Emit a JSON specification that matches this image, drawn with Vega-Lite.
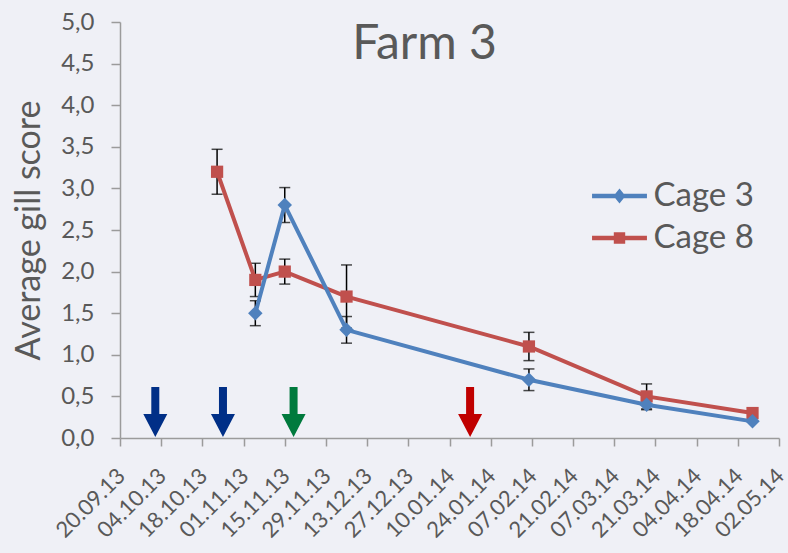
{
  "$schema": "https://vega.github.io/schema/vega-lite/v6.json",
  "width": 659,
  "height": 416,
  "autosize": "none",
  "padding": {"left": 120, "top": 22, "right": 9, "bottom": 115},
  "background": "#EFF0F6",
  "config": {
    "view": {"stroke": null},
    "font": "Lato",
    "axis": {
      "labelFont": "Lato",
      "titleFont": "Lato",
      "labelColor": "#595959",
      "titleColor": "#595959",
      "domainColor": "#9B9B9B",
      "tickColor": "#9B9B9B",
      "domainWidth": 1.5,
      "tickWidth": 1.5,
      "grid": false,
      "labelOverlap": false,
      "labelFlush": false,
      "titleFontWeight": "normal"
    }
  },
  "title": {
    "text": "Farm 3",
    "font": "Lato",
    "fontSize": 48,
    "fontWeight": "normal",
    "color": "#595959",
    "anchor": "middle",
    "frame": "group",
    "baseline": "alphabetic",
    "dx": -25,
    "dy": 51,
    "offset": -46
  },
  "datasets": {
    "scores": [
      {"series": "Cage 8", "date": "2013-10-23", "score": 3.2, "err": 0.27},
      {"series": "Cage 8", "date": "2013-11-05", "score": 1.9, "err": 0.2},
      {"series": "Cage 8", "date": "2013-11-15", "score": 2.0, "err": 0.15},
      {"series": "Cage 8", "date": "2013-12-06", "score": 1.7, "err": 0.38},
      {"series": "Cage 8", "date": "2014-02-06", "score": 1.1, "err": 0.17},
      {"series": "Cage 8", "date": "2014-03-18", "score": 0.5, "err": 0.15},
      {"series": "Cage 8", "date": "2014-04-23", "score": 0.3, "err": 0},
      {"series": "Cage 3", "date": "2013-11-05", "score": 1.5, "err": 0.15},
      {"series": "Cage 3", "date": "2013-11-15", "score": 2.8, "err": 0.21},
      {"series": "Cage 3", "date": "2013-12-06", "score": 1.3, "err": 0.16},
      {"series": "Cage 3", "date": "2014-02-06", "score": 0.7, "err": 0.13},
      {"series": "Cage 3", "date": "2014-03-18", "score": 0.4, "err": 0.06},
      {"series": "Cage 3", "date": "2014-04-23", "score": 0.2, "err": 0}
    ],
    "arrows": [
      {"date": "2013-10-02", "event": "A"},
      {"date": "2013-10-25", "event": "A"},
      {"date": "2013-11-18", "event": "B"},
      {"date": "2014-01-17", "event": "C"}
    ]
  },
  "encoding": {
    "x": {
      "field": "date",
      "type": "temporal",
      "title": null,
      "scale": {
        "type": "utc",
        "domain": [
          {"year": 2013, "month": 9, "date": 20, "utc": true},
          {"year": 2014, "month": 5, "date": 2, "utc": true}
        ]
      },
      "axis": {
        "values": [
          {"year": 2013, "month": 9, "date": 20, "utc": true},
          {"year": 2013, "month": 10, "date": 4, "utc": true},
          {"year": 2013, "month": 10, "date": 18, "utc": true},
          {"year": 2013, "month": 11, "date": 1, "utc": true},
          {"year": 2013, "month": 11, "date": 15, "utc": true},
          {"year": 2013, "month": 11, "date": 29, "utc": true},
          {"year": 2013, "month": 12, "date": 13, "utc": true},
          {"year": 2013, "month": 12, "date": 27, "utc": true},
          {"year": 2014, "month": 1, "date": 10, "utc": true},
          {"year": 2014, "month": 1, "date": 24, "utc": true},
          {"year": 2014, "month": 2, "date": 7, "utc": true},
          {"year": 2014, "month": 2, "date": 21, "utc": true},
          {"year": 2014, "month": 3, "date": 7, "utc": true},
          {"year": 2014, "month": 3, "date": 21, "utc": true},
          {"year": 2014, "month": 4, "date": 4, "utc": true},
          {"year": 2014, "month": 4, "date": 18, "utc": true},
          {"year": 2014, "month": 5, "date": 2, "utc": true}
        ],
        "format": "%d.%m.%y",
        "labelAngle": -45,
        "labelAlign": "right",
        "labelBaseline": "middle",
        "labelFontSize": 22,
        "labelOffset": 1,
        "tickSize": 8,
        "labelPadding": 26
      }
    }
  },
  "resolve": {"scale": {"shape": "independent"}, "legend": {"shape": "independent"}},
  "layer": [
    {
      "data": {"name": "scores"},
      "transform": [{"filter": "datum.err > 0"}],
      "mark": {"type": "errorbar", "color": "black", "thickness": 1.5, "ticks": {"size": 11}},
      "encoding": {
        "y": {
          "field": "score",
          "type": "quantitative",
          "title": "Average gill score",
          "scale": {"domain": [0, 5]},
          "axis": {
            "values": [0, 0.5, 1, 1.5, 2, 2.5, 3, 3.5, 4, 4.5, 5],
            "labelExpr": "replace(format(datum.value, '.1f'), '.', ',')",
            "labelFontSize": 24,
            "tickSize": 9,
            "labelPadding": 17,
            "titleFontSize": 34,
            "titlePadding": 14
          }
        },
        "yError": {"field": "err"}
      }
    },
    {
      "data": {"name": "scores"},
      "transform": [{"filter": "datum.series === 'Cage 8'"}],
      "mark": {"type": "line", "strokeWidth": 4},
      "encoding": {
        "y": {"field": "score", "type": "quantitative", "title": "Average gill score"},
        "color": {"field": "series", "type": "nominal", "scale": {"domain": ["Cage 3", "Cage 8"], "range": ["#4F81BD", "#C0504D"]}, "legend": null}
      }
    },
    {
      "data": {"name": "scores"},
      "transform": [{"filter": "datum.series === 'Cage 8'"}],
      "mark": {"type": "point", "shape": "square", "filled": true, "opacity": 1, "size": 150},
      "encoding": {
        "y": {"field": "score", "type": "quantitative", "title": "Average gill score"},
        "color": {"field": "series", "type": "nominal", "legend": null}
      }
    },
    {
      "data": {"name": "scores"},
      "transform": [{"filter": "datum.series === 'Cage 3'"}],
      "mark": {"type": "line", "strokeWidth": 4},
      "encoding": {
        "y": {"field": "score", "type": "quantitative", "title": "Average gill score"},
        "color": {"field": "series", "type": "nominal", "legend": null}
      }
    },
    {
      "data": {"name": "scores"},
      "transform": [{"filter": "datum.series === 'Cage 3'"}],
      "mark": {"type": "point", "shape": "diamond", "filled": true, "opacity": 1, "size": 210},
      "encoding": {
        "y": {"field": "score", "type": "quantitative", "title": "Average gill score"},
        "color": {"field": "series", "type": "nominal", "legend": null}
      }
    },
    {
      "data": {"name": "arrows"},
      "mark": {"type": "point", "shape": "M-0.16,-1L0.16,-1L0.16,0.08L0.48,0.08L0,1L-0.48,0.08L-0.16,0.08Z", "size": 2500, "filled": true, "opacity": 1, "yOffset": -26},
      "encoding": {
        "y": {"datum": 0, "type": "quantitative", "title": "Average gill score"},
        "fill": {"field": "event", "type": "nominal", "scale": {"domain": ["A", "B", "C"], "range": ["#002F87", "#007A3D", "#C00000"]}, "legend": null}
      }
    },
    {
      "data": {"name": "scores"},
      "transform": [{"filter": "datum.score < 0"}],
      "mark": {"type": "point", "filled": true, "opacity": 1, "color": "#4F81BD"},
      "encoding": {
        "y": {"field": "score", "type": "quantitative", "title": "Average gill score"},
        "shape": {
          "field": "series", "type": "nominal",
          "scale": {"domain": ["Cage 3"], "range": [
            "M-1.83,-0.147L-0.28,-0.147L0,-0.5L0.28,-0.147L1.83,-0.147L1.83,0.147L0.28,0.147L0,0.5L-0.28,0.147L-1.83,0.147Z"
          ]},
          "legend": {
            "title": null, "orient": "none", "legendX": 483, "legendY": 157.5,
            "symbolSize": 900, "labelFont": "Lato", "labelFontSize": 33, "labelColor": "#595959",
            "labelOffset": 17.5, "padding": 0, "labelBaseline": "middle"
          }
        }
      }
    },
    {
      "data": {"name": "scores"},
      "transform": [{"filter": "datum.score < 0"}],
      "mark": {"type": "point", "filled": true, "opacity": 1, "color": "#C0504D"},
      "encoding": {
        "y": {"field": "score", "type": "quantitative", "title": "Average gill score"},
        "shape": {
          "field": "series", "type": "nominal",
          "scale": {"domain": ["Cage 8"], "range": [
            "M-1.83,-0.147L-0.38,-0.147L-0.38,-0.38L0.38,-0.38L0.38,-0.147L1.83,-0.147L1.83,0.147L0.38,0.147L0.38,0.38L-0.38,0.38L-0.38,0.147L-1.83,0.147Z"
          ]},
          "legend": {
            "title": null, "orient": "none", "legendX": 483, "legendY": 199.5,
            "symbolSize": 900, "labelFont": "Lato", "labelFontSize": 33, "labelColor": "#595959",
            "labelOffset": 17.5, "padding": 0, "labelBaseline": "middle"
          }
        }
      }
    }
  ]
}
